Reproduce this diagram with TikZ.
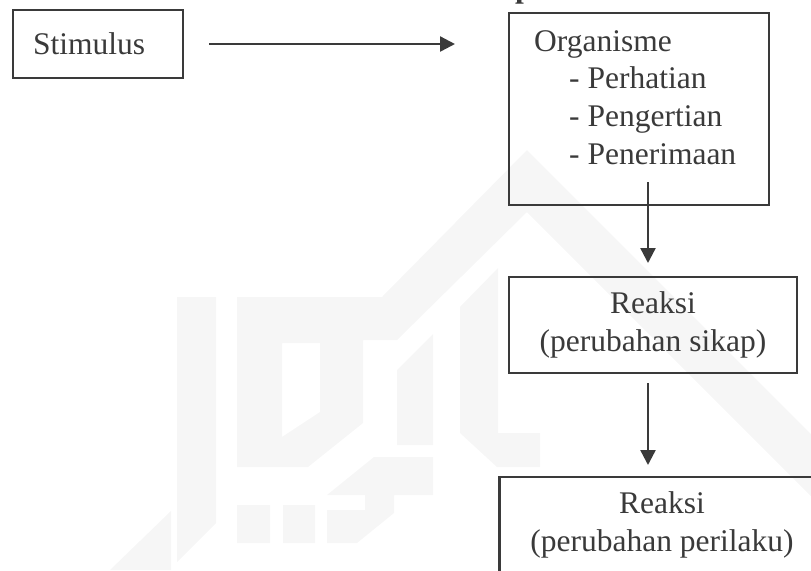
\documentclass[tikz,border=0pt]{standalone}
\usepackage{fontspec}
\setmainfont{Liberation Serif}
\usetikzlibrary{arrows.meta,positioning}
\definecolor{ink}{HTML}{3A3A3A}
\definecolor{wmark}{HTML}{F6F6F6}

\begin{document}
\begin{tikzpicture}[x=0.5pt,y=-0.5pt,>={Triangle[length=7.5pt,width=7.5pt]},
  every node/.style={text=ink,font=\fontsize{15.75pt}{18.85pt}\selectfont},
  box/.style={draw=ink,line width=1.2pt,inner sep=0pt},
  reaksi/.style={box,align=center,inner xsep=15.5pt,minimum height=48pt},
  conn/.style={->,draw=ink,line width=1.2pt}]
\useasboundingbox (0,0) rectangle (811,570);
% faint logo in the background
\fill[wmark] (177,297) -- (216,297) -- (216,523) -- (177,562) -- cycle;
\fill[wmark] (110,570) -- (171,511) -- (171,570) -- cycle;
\fill[wmark,even odd rule] (237,297) -- (382,297) -- (527,150) -- (811,434) -- (811,496) -- (527,212) -- (397,340) -- (363,340) -- (363,423) -- (308,467) -- (237,467) -- cycle
  (282,343) -- (320,343) -- (320,412) -- (282,437) -- cycle;
\fill[wmark] (397,370) -- (433,334) -- (433,445) -- (397,445) -- cycle;
\fill[wmark] (460,307) -- (498,268) -- (498,433) -- (540,433) -- (540,467) -- (497,467) -- (460,433) -- cycle;
\fill[wmark] (374,457) -- (433,457) -- (433,495) -- (394,495) -- (394,513) -- (357,543) -- (327,543) -- (327,510) -- (365,510) -- (365,495) -- (327,495) -- cycle;
\fill[wmark] (237,505) rectangle (270,543) (283,505) rectangle (315,543);

\node[font=\bfseries\fontsize{15.75pt}{18.85pt}\selectfont,anchor=base west] (cap) at (508,-3) {p};

\node[box,minimum width=85pt,minimum height=34pt,text width=65pt,inner xsep=10pt,align=left] (stim) at (98,44) {Stimulus};
\node[box,minimum width=130pt,minimum height=96pt] (org) at (639,109) {};
\node[inner sep=0pt,align=left,below right=9pt and 13pt of org.north west] (orgtext)
  {Organisme\\\hspace*{17.5pt}- Perhatian\\\hspace*{17.5pt}- Pengertian\\\hspace*{17.5pt}- Penerimaan};
\node[reaksi] (reak1) at (653,325) {Reaksi\\(perubahan sikap)};
\node[reaksi] (reak2) at (662,525) {Reaksi\\(perubahan perilaku)};
\coordinate (orgout) at (648,182);

\draw[conn,shorten <=12.4pt,shorten >=26.4pt] (stim.east) -- (stim.east -| org.west);
\draw[conn,shorten >=6.4pt] (orgout) -- (orgout |- reak1.north);
\draw[conn,shorten <=4.4pt,shorten >=5.4pt] (orgout |- reak1.south) -- (orgout |- reak2.north);
\end{tikzpicture}
\end{document}
